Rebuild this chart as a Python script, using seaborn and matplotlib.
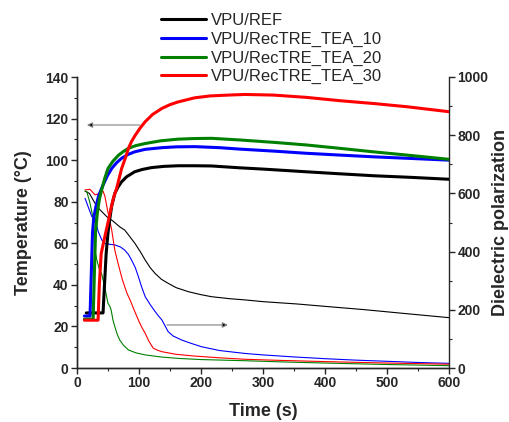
import numpy as np
import pandas as pd
import matplotlib
matplotlib.use("Agg")
import matplotlib.pyplot as plt
from matplotlib.ticker import MultipleLocator
import seaborn as sns

# ---------------- data ----------------
labels = ["VPU/REF", "VPU/RecTRE_TEA_10", "VPU/RecTRE_TEA_20", "VPU/RecTRE_TEA_30"]
colors = ["#000000", "#0000ff", "#008000", "#ff0000"]

# Temperature (left axis, thick lines)
t_ref = [15, 42, 44, 47, 50, 53, 56, 61, 66, 72, 80, 93, 105, 120, 140, 163, 190,
         217, 263, 300, 370, 420, 478, 540, 600]
T_ref = [26.5, 26.5, 38, 55, 65, 72, 78, 84, 87, 89.6, 92, 94.4, 95.5, 96.4, 97,
         97.3, 97.3, 97.2, 96.3, 95.7, 94.4, 93.5, 92.5, 91.7, 90.8]

t_10 = [12, 21, 23, 25, 27, 30, 35, 42, 49, 56, 64, 72, 82, 93, 110, 137, 160, 190,
        230, 263, 320, 370, 420, 478, 540, 600]
T_10 = [25, 25, 45, 65, 72, 77, 83, 88, 92.5, 96, 98.8, 100.9, 102.7, 104, 105.2,
        106, 106.4, 106.5, 106, 105.3, 104.3, 103.3, 102.5, 101.6, 100.8, 100]

t_20 = [12, 26, 28, 30, 33, 36, 40, 45, 50, 58, 67, 75, 83, 95, 110, 135, 163, 190,
        217, 263, 320, 370, 420, 478, 540, 600]
T_20 = [23.5, 23.5, 45, 66, 75, 81, 86, 91.5, 96, 99.5, 102.4, 104.2, 105.7, 107,
        108, 109.3, 110.1, 110.4, 110.5, 109.7, 108.5, 107.3, 105.8, 104, 102.2, 100.4]

t_30 = [12, 34, 36, 39, 44, 50, 55, 59, 64, 72, 78, 83, 88, 94, 102, 110, 122, 137,
        150, 163, 190, 215, 244, 271, 317, 370, 424, 480, 532, 600]
T_30 = [23, 23, 40, 55, 62, 70, 77, 82, 86.5, 96, 101, 105.7, 109, 112, 115.5, 118.5,
        122, 124.9, 126.7, 128, 130, 130.9, 131.3, 131.6, 131.3, 130.2, 128.6, 127.2,
        125.7, 123.3]

# Dielectric polarization (right axis, thin lines)
d_ref_t = [13, 20, 32, 48, 58, 69, 77, 85, 93.5, 102, 110, 118, 126, 136, 147, 160,
           180, 200, 217, 247, 271, 300, 355, 410, 461, 530, 600]
d_ref = [608, 600, 555, 520, 505, 485, 474, 452, 428, 400, 371, 345, 325, 305, 291,
         276, 262, 252, 245, 238, 234, 228, 220, 210, 201, 187, 173]

d_10_t = [13, 18, 24, 29, 34, 40, 45, 53, 61, 70, 77, 83, 88, 94, 99, 104, 110, 118,
          126, 131, 137, 142, 147, 155, 169, 185, 201, 230, 271, 300, 350, 400, 450,
          500, 550, 600]
d_10 = [583, 554, 520, 518, 470, 440, 428, 425, 423, 416, 405, 390, 371, 345, 314,
        280, 245, 218, 194, 180, 165, 145, 125, 110, 96, 84, 73, 60, 50, 45, 38, 32,
        27, 23, 19, 16]

d_20_t = [13, 16, 21, 26, 29, 32, 36, 40, 45, 50, 53, 55, 58, 61, 65, 69, 75, 83, 95,
          110, 135, 163, 200, 271, 330, 400, 500, 600]
d_20 = [608, 605, 566, 515, 405, 371, 340, 322, 275, 222, 212, 200, 165, 142, 115, 96,
        78, 62, 52, 45, 38, 33, 29, 25, 21, 17, 12, 8]

d_30_t = [13, 21, 29, 37, 42, 45, 49, 53, 56, 61, 65, 69, 73, 77, 81, 86, 92, 99, 104,
          110, 116, 123, 130, 137, 160, 190, 230, 271, 330, 400, 500, 600]
d_30 = [612, 614, 595, 600, 608, 590, 545, 505, 474, 405, 370, 337, 305, 279, 255, 232,
        200, 165, 142, 119, 92, 68, 61, 56, 47, 41, 35, 30, 26, 22, 17, 13]

temp_series = [(t_ref, T_ref), (t_10, T_10), (t_20, T_20), (t_30, T_30)]
diel_series = [(d_ref_t, d_ref), (d_10_t, d_10), (d_20_t, d_20), (d_30_t, d_30)]

# ---------------- styling ----------------
sns.set_style("ticks")
plt.rcParams["font.family"] = ["Liberation Sans", "DejaVu Sans"]
plt.rcParams["axes.linewidth"] = 1.0

W, H = 509, 422
fig = plt.figure(figsize=(W / 100, H / 100), dpi=100)
ax = fig.add_axes([77 / W, 1 - 368 / H, 372 / W, 291 / H])
ax2 = ax.twinx()

# thin dielectric lines (right axis)
for (tx, vy), c in zip(diel_series, colors):
    df = pd.DataFrame({"t": tx, "v": vy})
    sns.lineplot(data=df, x="t", y="v", color=c, lw=0.8, ax=ax2,
                 estimator=None, sort=False, legend=False)

# thick temperature lines (left axis)
handles = []
for (tx, vy), c, lab in zip(temp_series, colors, labels):
    df = pd.DataFrame({"t": tx, "v": vy})
    sns.lineplot(data=df, x="t", y="v", color=c, lw=2.2, ax=ax,
                 estimator=None, sort=False, legend=False)
    handles.append(ax.get_lines()[-1])

ax.set_zorder(ax2.get_zorder() + 1)
ax.patch.set_visible(False)

ax.set_xlim(0, 600)
ax.set_ylim(0, 140)
ax2.set_ylim(0, 1000)

ax.xaxis.set_major_locator(MultipleLocator(100))
ax.xaxis.set_minor_locator(MultipleLocator(50))
ax.yaxis.set_major_locator(MultipleLocator(20))
ax.yaxis.set_minor_locator(MultipleLocator(10))
ax2.yaxis.set_major_locator(MultipleLocator(200))
ax2.yaxis.set_minor_locator(MultipleLocator(100))

for a in (ax, ax2):
    a.spines["top"].set_visible(False)
    a.tick_params(which="major", direction="out", length=4, width=1,
                  labelsize=10, pad=2)
    a.tick_params(which="minor", direction="out", length=2.5, width=0.8)
    for lbl in a.get_xticklabels() + a.get_yticklabels():
        lbl.set_fontweight("bold")
ax.spines["right"].set_visible(False)

ax.set_xlabel("Time (s)", fontsize=13, fontweight="bold", labelpad=9)
ax.set_ylabel("Temperature (\u00b0C)", fontsize=13, fontweight="bold", labelpad=10)
ax2.set_ylabel("Dielectric polarization", fontsize=13, fontweight="bold", labelpad=3)

# arrows indicating the axis for each group of curves
ax.annotate("", xy=(16, 116.9), xytext=(101.6, 116.9),
            arrowprops=dict(arrowstyle="-|>", ec="#808080", fc="black",
                            lw=0.8, mutation_scale=8, shrinkA=0, shrinkB=0))
ax.annotate("", xy=(243.5, 20.7), xytext=(145, 20.7),
            arrowprops=dict(arrowstyle="-|>", ec="#808080", fc="black",
                            lw=0.8, mutation_scale=8, shrinkA=0, shrinkB=0))

fig.legend(handles, labels, loc="upper left",
           bbox_to_anchor=(161 / W, 1 - 13 / H), frameon=False, fontsize=12,
           handlelength=2.7, handletextpad=0.3, labelspacing=0.22,
           borderpad=0, borderaxespad=0)

fig.savefig("out.png", dpi=100)
